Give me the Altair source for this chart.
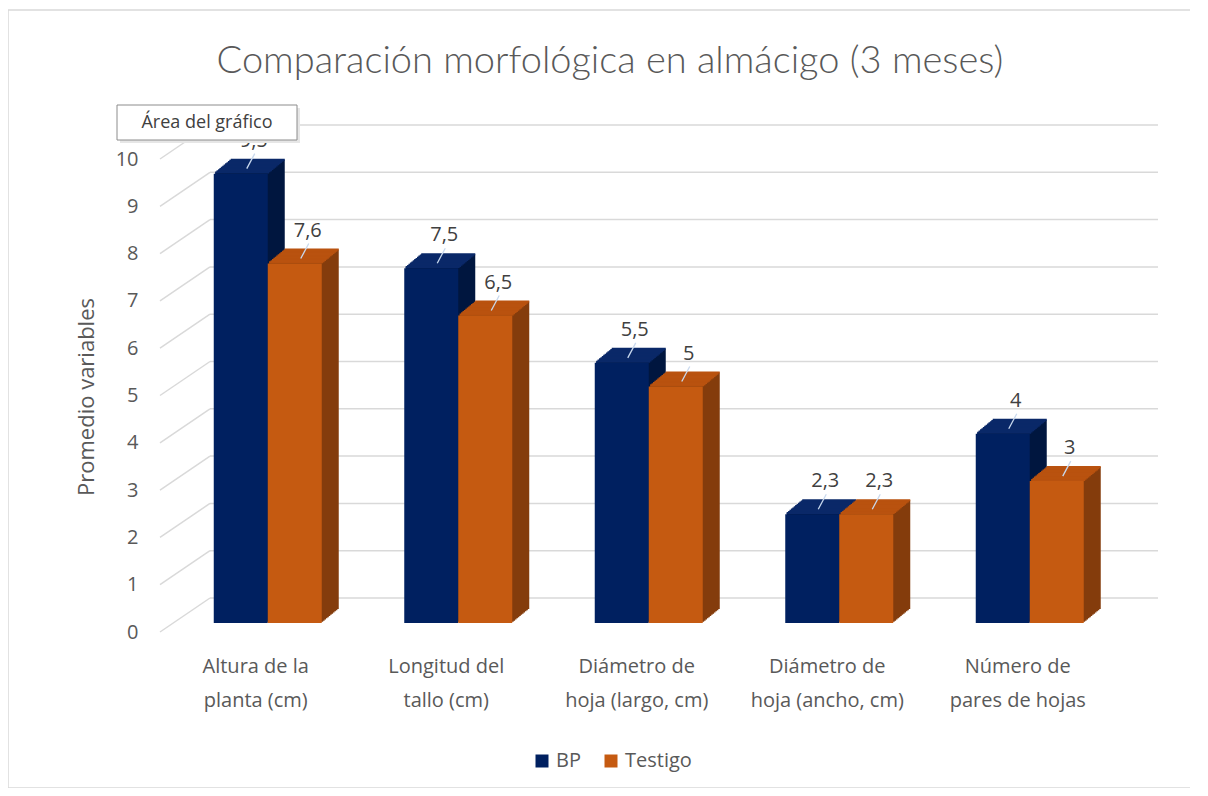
import altair as alt
import pandas as pd

# ---- data ----
categories = [
    "Altura de la\nplanta (cm)",
    "Longitud del\ntallo (cm)",
    "Diámetro de\nhoja (largo, cm)",
    "Diámetro de\nhoja (ancho, cm)",
    "Número de\npares de hojas",
]
series = ["BP", "Testigo"]
bp_values = [9.5, 7.5, 5.5, 2.3, 4.0]
testigo_values = [7.6, 6.5, 5.0, 2.3, 3.0]
bp_labels = ["9,5", "7,5", "5,5", "2,3", "4"]
testigo_labels = ["7,6", "6,5", "5", "2,3", "3"]
y_ticks = [0, 1, 2, 3, 4, 5, 6, 7, 8, 9, 10]

rows = []
for c, v, l in zip(categories, bp_values, bp_labels):
    rows.append({"cat": c, "serie": "BP", "valor": v, "etiqueta": l})
for c, v, l in zip(categories, testigo_values, testigo_labels):
    rows.append({"cat": c, "serie": "Testigo", "valor": v, "etiqueta": l})
df = pd.DataFrame(rows)
ticks_df = pd.DataFrame({"valor": y_ticks})
one_df = pd.DataFrame({"a": [0]})

# ---- style ----
FONT = "Open Sans"
TXT = "#595959"
front_col = {"BP": "#002060", "Testigo": "#C55A11"}
top_col = {"BP": "#0A2868", "Testigo": "#B9520F"}
side_col = {"BP": "#00163F", "Testigo": "#843C0C"}
BAR_W = 54
DX, DY = 17, -14
N = 12
W, H = 1000, 473

xscale = alt.Scale(domain=categories, range=[12.5, 965], paddingInner=0, paddingOuter=0)
yscale = alt.Scale(domain=[0, 10], nice=False, zero=True)

xaxis = alt.Axis(title=None, domain=False, ticks=False, labelAngle=0,
                 labelExpr="split(datum.label, '\\n')",
                 labelFont=FONT, labelFontSize=20, labelColor=TXT,
                 labelLineHeight=34, labelPadding=33, labelOffset=-12)
yaxis = alt.Axis(title=None, values=y_ticks, domain=False, ticks=False, grid=False,
                 labelFont=FONT, labelFontSize=20, labelColor=TXT,
                 labelPadding=22, labelOffset=9)
X = alt.X("cat:N", scale=xscale, sort=categories, axis=xaxis)
Y = alt.Y("valor:Q", scale=yscale, axis=yaxis)

layers = []

# back-wall gridlines and floor diagonals
grid = alt.Chart(ticks_df).mark_rule(color="#D9D9D9", strokeWidth=1.5, yOffset=-25).encode(
    x=alt.value(50), x2=alt.value(998), y=Y)
floor = alt.Chart(ticks_df).mark_rule(color="#D9D9D9", strokeWidth=1.5, yOffset=9, y2Offset=-25).encode(
    x=alt.value(0), x2=alt.value(50), y=Y, y2=alt.Y2("valor:Q"))
layers += [grid, floor]

for s in series:
    bx = -BAR_W / 2 if s == "BP" else BAR_W / 2
    base = alt.Chart(df).transform_filter(alt.datum.serie == s)
    # extrusion (side faces)
    for k in range(1, N + 1):
        ox = bx + DX * k / N
        oy = DY * k / N
        layers.append(base.mark_bar(width=BAR_W, xOffset=ox, yOffset=oy, y2Offset=oy,
                                    color=side_col[s]).encode(x=X, y=Y))
    # top faces
    for k in range(1, N + 1):
        ox = bx + DX * k / N
        oy = DY * k / N
        layers.append(base.mark_tick(size=BAR_W, thickness=2, xOffset=ox, yOffset=oy,
                                     color=top_col[s], opacity=1).encode(x=X, y=Y))
    # front faces
    layers.append(base.mark_bar(width=BAR_W, xOffset=bx).encode(
        x=X, y=Y,
        color=alt.Color("serie:N", scale=alt.Scale(domain=series,
                                                   range=[front_col["BP"], front_col["Testigo"]]),
                        legend=alt.Legend(title=None, orient="none", direction="horizontal",
                                          legendX=372, legendY=601, symbolType="square",
                                          symbolSize=169, symbolStrokeWidth=0,
                                          labelFont=FONT, labelFontSize=20, labelColor=TXT,
                                          columnPadding=20, symbolOffset=0)),
    ))

# data labels and leader lines
for s in series:
    bx = -BAR_W / 2 if s == "BP" else BAR_W / 2
    base = alt.Chart(df).transform_filter(alt.datum.serie == s)
    layers.append(base.mark_rule(color="#C9D9EE", strokeWidth=1.3,
                                 xOffset=bx + 6, x2Offset=bx + 14,
                                 yOffset=-5, y2Offset=-20).encode(
        x=X, x2=alt.X2("cat:N"), y=Y, y2=alt.Y2("valor:Q")))
    layers.append(base.mark_text(font=FONT, fontSize=20, color="#404040",
                                 xOffset=bx + 13, yOffset=-33, baseline="middle").encode(
        x=X, y=Y, text="etiqueta:N"))

# title and axis title
layers.append(alt.Chart(one_df).mark_text(
    text="Comparación morfológica en almácigo (3 meses)", font="Lato", fontSize=38,
    fontWeight=300, color=TXT, baseline="middle", align="center").encode(
    x=alt.value(450), y=alt.value(-88)))
layers.append(alt.Chart(one_df).mark_text(
    text="Promedio variables", font=FONT, fontSize=22, color=TXT, angle=270,
    baseline="middle", align="center").encode(x=alt.value(-73), y=alt.value(247)))

# "Área del gráfico" tooltip box
layers.append(alt.Chart(one_df).mark_rect(fill="#E6E6E6").encode(
    x=alt.value(-40), x2=alt.value(140), y=alt.value(-42), y2=alt.value(-7)))
layers.append(alt.Chart(one_df).mark_rect(fill="white", stroke="#8C8C8C", strokeWidth=1).encode(
    x=alt.value(-43), x2=alt.value(137), y=alt.value(-45), y2=alt.value(-10)))
layers.append(alt.Chart(one_df).mark_text(
    text="Área del gráfico", font=FONT, fontSize=18, color="#404040",
    baseline="middle", align="center").encode(x=alt.value(47), y=alt.value(-27)))

# outer frame
layers.append(alt.Chart(one_df).mark_rect(fill=None, stroke="#D9D9D9", strokeWidth=1.5).encode(
    x=alt.value(-152), x2=alt.value(1038), y=alt.value(-140), y2=alt.value(638)))

chart = alt.layer(*layers).properties(
    width=W, height=H,
    autosize=alt.AutoSizeParams(type="none"),
    padding={"left": 152, "top": 142, "right": 30, "bottom": 165},
).configure_view(stroke=None)

chart.save("out.html", embed_options={"renderer": "svg", "actions": False})
